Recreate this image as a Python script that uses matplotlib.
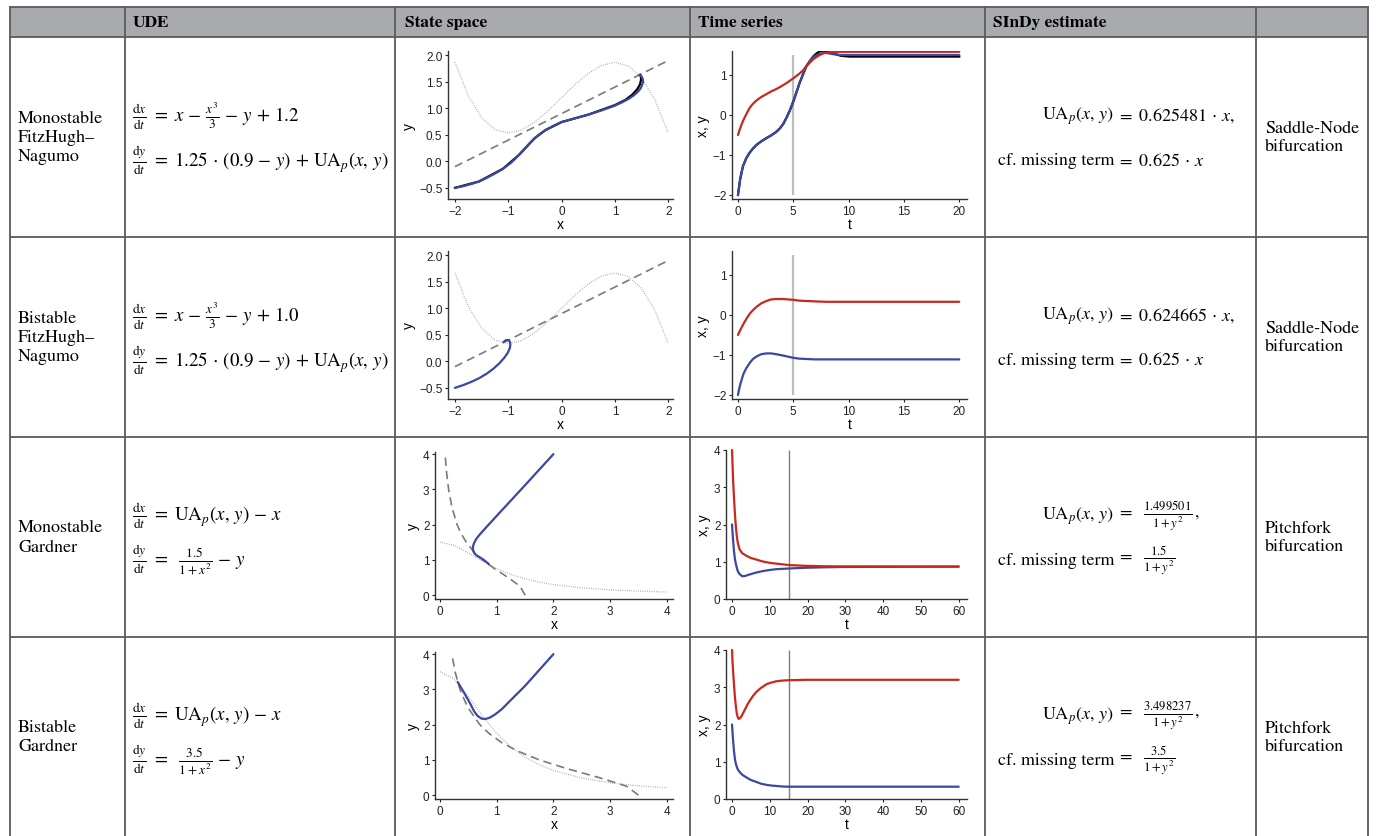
import matplotlib
matplotlib.use("Agg")
import matplotlib.pyplot as plt
from matplotlib.lines import Line2D
from matplotlib.patches import Rectangle

W, H = 1376, 837
plt.rcParams['mathtext.fontset'] = 'stix'
plt.rcParams['font.family'] = ['Liberation Sans', 'DejaVu Sans']
SERIF = ['STIXGeneral', 'Liberation Serif', 'DejaVu Serif']

# ---------------- data ----------------
headers = ["UDE", "State space", "Time series", "SInDy estimate"]
row_names = ["Monostable\nFitzHugh\u2013\nNagumo", "Bistable\nFitzHugh\u2013\nNagumo",
             "Monostable\nGardner", "Bistable\nGardner"]
bifurcations = ["Saddle-Node\nbifurcation", "Saddle-Node\nbifurcation",
                "Pitchfork\nbifurcation", "Pitchfork\nbifurcation"]
ude_dx = [r"$\frac{\mathrm{d}x}{\mathrm{d}t}\ =\ x\,-\,\frac{x^3}{3}\,-\,y\,+\,1.2$",
          r"$\frac{\mathrm{d}x}{\mathrm{d}t}\ =\ x\,-\,\frac{x^3}{3}\,-\,y\,+\,1.0$",
          r"$\frac{\mathrm{d}x}{\mathrm{d}t}\ =\ \mathrm{UA}_p(x,\, y)\,-\,x$",
          r"$\frac{\mathrm{d}x}{\mathrm{d}t}\ =\ \mathrm{UA}_p(x,\, y)\,-\,x$"]
ude_dy = [r"$\frac{\mathrm{d}y}{\mathrm{d}t}\ =\ 1.25\,\cdot\,(0.9\,-\,y)\,+\,\mathrm{UA}_p(x,\, y)$",
          r"$\frac{\mathrm{d}y}{\mathrm{d}t}\ =\ 1.25\,\cdot\,(0.9\,-\,y)\,+\,\mathrm{UA}_p(x,\, y)$",
          r"$\frac{\mathrm{d}y}{\mathrm{d}t}\ =\ \ \frac{1.5}{1+x^2}\,-\,y$",
          r"$\frac{\mathrm{d}y}{\mathrm{d}t}\ =\ \ \frac{3.5}{1+x^2}\,-\,y$"]
sindy_lhs = r"$\mathrm{UA}_p(x,\, y)$"
sindy_fit = [r"$=\ 0.625481\,\cdot\,x,$", r"$=\ 0.624665\,\cdot\,x,$",
             r"$=\ \ \frac{1.499501}{1+y^2}\,,$", r"$=\ \ \frac{3.498237}{1+y^2}\,,$"]
sindy_true = [r"$=\ 0.625\,\cdot\,x$", r"$=\ 0.625\,\cdot\,x$",
              r"$=\ \ \frac{1.5}{1+y^2}$", r"$=\ \ \frac{3.5}{1+y^2}$"]

# FitzHugh-Nagumo nullclines
fhn_null_x = [-2, -1.75, -1.5, -1.25, -1, -0.75, -0.5, -0.25, 0, 0.25, 0.5, 0.75, 1, 1.25, 1.5, 1.75, 2]
fhn1_null_y = [1.867, 1.236, 0.825, 0.601, 0.533, 0.591, 0.742, 0.955, 1.2, 1.445, 1.658, 1.809,
               1.867, 1.799, 1.575, 1.164, 0.533]
fhn2_null_y = [1.667, 1.036, 0.625, 0.401, 0.333, 0.391, 0.542, 0.755, 1.0, 1.245, 1.458, 1.609,
               1.667, 1.599, 1.375, 0.964, 0.333]
fhn_line_x = [-2, 2]
fhn_line_y = [-0.1, 1.9]

# FHN trajectories in state space (blue = UDE, black = true model)
fhn1_bx = [-2.0, -1.85, -1.7, -1.55, -1.4, -1.25, -1.1, -0.95, -0.8, -0.7, -0.6, -0.5, -0.4, -0.3,
           -0.15, 0.0, 0.25, 0.5, 0.75, 1.0, 1.15, 1.26, 1.35, 1.42, 1.48, 1.51, 1.53, 1.52, 1.5, 1.47]
fhn1_by = [-0.5, -0.47, -0.43, -0.38, -0.31, -0.23, -0.14, -0.03, 0.12, 0.23, 0.34, 0.44, 0.52, 0.59,
           0.67, 0.74, 0.81, 0.88, 0.96, 1.05, 1.12, 1.18, 1.24, 1.3, 1.37, 1.44, 1.5, 1.56, 1.6, 1.63]
fhn1_kx = [-2.0, -1.55, -1.1, -0.8, -0.5, -0.3, 0.0, 0.5, 1.0, 1.2, 1.33, 1.42, 1.47, 1.49, 1.49, 1.47]
fhn1_ky = [-0.5, -0.38, -0.14, 0.12, 0.44, 0.59, 0.74, 0.88, 1.06, 1.16, 1.26, 1.36, 1.45, 1.53, 1.59, 1.63]
fhn2_bx = [-2.0, -1.85, -1.7, -1.55, -1.4, -1.28, -1.17, -1.08, -1.01, -0.97, -0.96, -0.97, -1.0,
           -1.04, -1.07, -1.09]
fhn2_by = [-0.5, -0.45, -0.39, -0.32, -0.23, -0.14, -0.04, 0.06, 0.16, 0.25, 0.32, 0.37, 0.4, 0.4,
           0.38, 0.36]

# FHN time series
fhn1_t = [0, 0.2, 0.45, 0.75, 1.06, 1.35, 1.66, 2.1, 2.56, 3.0, 3.47, 3.8, 4.1, 4.4, 4.7, 5.07, 5.3,
          5.58, 5.9, 6.18, 6.5, 6.79, 7.1, 7.39, 7.7, 8.0, 8.6, 9.3, 10.1, 20]
fhn1_x = [-2, -1.6, -1.28, -1.08, -0.94, -0.84, -0.75, -0.66, -0.58, -0.51, -0.42, -0.33, -0.22, -0.06,
          0.12, 0.39, 0.58, 0.81, 1.03, 1.22, 1.35, 1.44, 1.5, 1.53, 1.55, 1.55, 1.52, 1.5, 1.5, 1.5]
fhn1_y = [-0.5, -0.33, -0.15, 0.02, 0.18, 0.28, 0.36, 0.45, 0.52, 0.59, 0.65, 0.7, 0.75, 0.8, 0.86,
          0.93, 0.98, 1.04, 1.12, 1.22, 1.31, 1.39, 1.45, 1.5, 1.54, 1.56, 1.58, 1.58, 1.58, 1.58]
fhn1_xtrue = [-2, -1.6, -1.28, -1.08, -0.94, -0.84, -0.75, -0.66, -0.58, -0.51, -0.42, -0.33, -0.22,
              -0.06, 0.12, 0.39, 0.58, 0.81, 1.03, 1.22, 1.35, 1.46, 1.54, 1.59, 1.61, 1.6, 1.54, 1.48,
              1.46, 1.46]
fhn2_t = [0, 0.1, 0.2, 0.35, 0.5, 0.75, 1.06, 1.35, 1.66, 2.1, 2.56, 3.0, 3.47, 4.0, 4.5, 5.0, 5.5,
          6.18, 7.0, 8.0, 20]
fhn2_x = [-2, -1.86, -1.74, -1.6, -1.47, -1.33, -1.2, -1.1, -1.04, -0.98, -0.96, -0.96, -0.98, -1.01,
          -1.04, -1.07, -1.09, -1.1, -1.11, -1.11, -1.11]
fhn2_y = [-0.5, -0.44, -0.38, -0.3, -0.22, -0.1, 0.03, 0.12, 0.2, 0.29, 0.35, 0.39, 0.4, 0.4, 0.39,
          0.38, 0.36, 0.35, 0.34, 0.33, 0.33]
fhn_cut_t = 5

# Gardner nullclines (same shape on both axes)
gard_s = [0, 0.25, 0.5, 0.75, 1, 1.25, 1.5, 1.75, 2, 2.5, 3, 3.5, 4]
gard1_null = [1.5, 1.412, 1.2, 0.96, 0.75, 0.585, 0.462, 0.369, 0.3, 0.207, 0.15, 0.113, 0.088]
gard2_null = [3.5, 3.294, 2.8, 2.24, 1.75, 1.366, 1.077, 0.862, 0.7, 0.483, 0.35, 0.264, 0.206]

# Gardner trajectories in state space
gard1_bx = [2.0, 1.5, 1.0, 0.8, 0.7, 0.64, 0.6, 0.58, 0.58, 0.6, 0.64, 0.7, 0.77, 0.86]
gard1_by = [4.0, 3.12, 2.25, 1.9, 1.72, 1.6, 1.48, 1.38, 1.28, 1.2, 1.13, 1.07, 1.0, 0.88]
gard2_bx = [2.0, 1.75, 1.5, 1.25, 1.09, 0.98, 0.88, 0.8, 0.73, 0.66, 0.6, 0.53, 0.45, 0.38, 0.31]
gard2_by = [4.0, 3.55, 3.1, 2.7, 2.44, 2.3, 2.2, 2.16, 2.17, 2.25, 2.38, 2.6, 2.83, 3.02, 3.21]

# Gardner time series
gard1_tx = [0, 0.15, 0.3, 0.5, 0.75, 1.0, 1.3, 1.6, 2.0, 2.7, 3.5, 4.7, 6.4, 8.2, 10, 11.7, 15.2, 20,
            24, 30, 60]
gard1_x = [2, 1.75, 1.55, 1.3, 1.08, 0.95, 0.82, 0.73, 0.67, 0.61, 0.62, 0.66, 0.71, 0.75, 0.78, 0.8,
           0.82, 0.84, 0.85, 0.86, 0.87]
gard1_ty = [0, 0.15, 0.3, 0.5, 0.75, 1.0, 1.25, 1.5, 2.0, 2.7, 3.8, 5, 6.4, 8, 10, 12.5, 15.2, 19.6,
            24, 30, 60]
gard1_y = [4, 3.55, 3.15, 2.75, 2.3, 1.95, 1.7, 1.52, 1.33, 1.23, 1.16, 1.1, 1.06, 1.01, 0.97, 0.94,
           0.91, 0.89, 0.88, 0.875, 0.87]
gard2_tx = [0, 0.15, 0.3, 0.5, 0.75, 1.0, 1.3, 1.6, 2.0, 2.7, 3.8, 5.0, 6.4, 7.7, 9.1, 10.5, 11.7,
            13.5, 15.2, 60]
gard2_x = [2, 1.75, 1.55, 1.3, 1.08, 0.95, 0.85, 0.78, 0.73, 0.65, 0.58, 0.51, 0.46, 0.41, 0.38,
           0.36, 0.35, 0.335, 0.33, 0.33]
gard2_ty = [0, 0.15, 0.3, 0.5, 0.75, 1.0, 1.25, 1.5, 1.76, 2.1, 2.5, 2.9, 3.5, 4.1, 4.7, 5.5, 6.4,
            7.5, 9.1, 10.5, 11.7, 13.5, 15.2, 20, 60]
gard2_y = [4, 3.65, 3.4, 3.1, 2.75, 2.5, 2.3, 2.2, 2.15, 2.17, 2.22, 2.3, 2.42, 2.54, 2.64, 2.76,
           2.87, 2.97, 3.08, 3.13, 3.16, 3.18, 3.19, 3.2, 3.2]
gard_cut_t = 15

# ---------------- drawing ----------------
BLUE = '#3b47a0'
RED = '#c8281e'
BORDER = '#5a5b5d'

fig = plt.figure(figsize=(W / 100, H / 100), dpi=100)
fig.patch.set_facecolor('white')


def fx(p):
    return p / W


def fy(p):
    return 1 - p / H


def hline(y, x0, x1):
    fig.add_artist(Line2D([fx(x0), fx(x1)], [fy(y), fy(y)], transform=fig.transFigure,
                          color=BORDER, lw=1.3))


def vline(x, y0, y1):
    fig.add_artist(Line2D([fx(x), fx(x)], [fy(y0), fy(y1)], transform=fig.transFigure,
                          color=BORDER, lw=1.3))


# header background
fig.add_artist(Rectangle((fx(10), fy(38)), fx(1368) - fx(10), fy(8) - fy(38),
                         transform=fig.transFigure, facecolor='#a9aaad', edgecolor='none'))
col_x = [10, 125, 395, 690, 985, 1256, 1368]
for y in [8, 38, 238, 438, 638]:
    hline(y, 10, 1368)
for x in col_x:
    vline(x, 8, 840)

for txt, x in zip(headers, [133, 405, 698, 993]):
    fig.text(fx(x), fy(23), txt, family=SERIF, fontweight='bold', fontsize=12.5, va='center', ha='left')

for i in range(4):
    off = 200 * i
    fig.text(fx(18), fy(138 + off), row_names[i], family=SERIF, fontsize=13, va='center', ha='left',
             linespacing=1.25)
    fig.text(fx(1265), fy(138 + off), bifurcations[i], family=SERIF, fontsize=13, va='center', ha='left',
             linespacing=1.15)
    fig.text(fx(132), fy(116 + off), ude_dx[i], fontsize=13.6, va='center', ha='left')
    fig.text(fx(132), fy(161 + off), ude_dy[i], fontsize=13.6, va='center', ha='left')
    fig.text(fx(1114), fy(116 + off), sindy_lhs, fontsize=13, va='center', ha='right')
    fig.text(fx(1117), fy(116 + off), sindy_fit[i], fontsize=13, va='center', ha='left')
    fig.text(fx(1114), fy(161 + off), "cf. missing term", family=SERIF, fontsize=13, va='center', ha='right')
    fig.text(fx(1117), fy(161 + off), sindy_true[i], fontsize=13, va='center', ha='left')


def add_ax(l, t, r, b):
    ax = fig.add_axes([l / W, 1 - b / H, (r - l) / W, (b - t) / H])
    for s in ['top', 'right']:
        ax.spines[s].set_visible(False)
    for s in ['left', 'bottom']:
        ax.spines[s].set_color('#333333')
        ax.spines[s].set_linewidth(1.0)
    ax.tick_params(direction='out', length=2.5, width=0.8, labelsize=8.5, pad=1.5, colors='#222222')
    ax.patch.set_alpha(0)
    return ax


state_boxes = [(448, 52, 673, 200), (448, 252, 673, 400), (435, 453, 673, 600), (435, 653, 673, 800)]
time_boxes = [(732, 52, 967, 200), (732, 252, 967, 400), (726, 451, 967, 600), (726, 651, 967, 800)]

dot_kw = dict(color='#9a9a9a', lw=0.9, ls=(0, (0.6, 1.2)), zorder=1)
dash_kw = dict(color='#7a7a7a', lw=1.2, ls=(0, (5, 3)), zorder=1)
traj_kw = dict(lw=1.6, zorder=3, solid_capstyle='round', solid_joinstyle='round')

# --- FHN state spaces ---
for i, (ny, bx, by) in enumerate([(fhn1_null_y, fhn1_bx, fhn1_by), (fhn2_null_y, fhn2_bx, fhn2_by)]):
    ax = add_ax(*state_boxes[i])
    ax.plot(fhn_null_x, ny, **dot_kw)
    ax.plot(fhn_line_x, fhn_line_y, **dash_kw)
    if i == 0:
        ax.plot(fhn1_kx, fhn1_ky, color='black', lw=1.6, zorder=2, solid_joinstyle='round')
    ax.plot(bx, by, color=BLUE, **traj_kw)
    ax.set_xlim(-2.13, 2.09)
    ax.set_ylim(-0.71, 2.08)
    ax.set_xticks([-2, -1, 0, 1, 2])
    ax.set_yticks([-0.5, 0.0, 0.5, 1.0, 1.5, 2.0])
    ax.set_xlabel('x', fontsize=10, labelpad=0)
    ax.set_ylabel('y', fontsize=10, labelpad=2)

# --- Gardner state spaces ---
for i, (nl, bx, by) in enumerate([(gard1_null, gard1_bx, gard1_by), (gard2_null, gard2_bx, gard2_by)]):
    ax = add_ax(*state_boxes[i + 2])
    ax.plot(gard_s, nl, **dot_kw)
    ax.plot(nl, gard_s, **dash_kw)
    ax.plot(bx, by, color=BLUE, **traj_kw)
    ax.set_xlim(-0.09, 4.11)
    ax.set_ylim(-0.11, 4.06)
    ax.set_xticks([0, 1, 2, 3, 4])
    ax.set_yticks([0, 1, 2, 3, 4])
    ax.set_xlabel('x', fontsize=10, labelpad=0)
    ax.set_ylabel('y', fontsize=10, labelpad=2)

# --- FHN time series ---
for i, (tt, xs, ys) in enumerate([(fhn1_t, fhn1_x, fhn1_y), (fhn2_t, fhn2_x, fhn2_y)]):
    ax = add_ax(*time_boxes[i])
    ax.vlines(fhn_cut_t, -2, 1.5, color='#bdbdbd', lw=1.6, zorder=1)
    if i == 0:
        ax.plot(tt, fhn1_xtrue, color='black', lw=1.6, zorder=2, solid_joinstyle='round')
    ax.plot(tt, xs, color=BLUE, **traj_kw)
    ax.plot(tt, ys, color=RED, **traj_kw)
    ax.set_xlim(-0.54, 20.7)
    ax.set_ylim(-2.1, 1.6)
    ax.set_xticks([0, 5, 10, 15, 20])
    ax.set_yticks([-2, -1, 0, 1])
    ax.set_xlabel('t', fontsize=10, labelpad=0)
    ax.set_ylabel('x, y', fontsize=10, labelpad=2)

# --- Gardner time series ---
for i, (tx, xs, ty, ys) in enumerate([(gard1_tx, gard1_x, gard1_ty, gard1_y),
                                      (gard2_tx, gard2_x, gard2_ty, gard2_y)]):
    ax = add_ax(*time_boxes[i + 2])
    ax.vlines(gard_cut_t, 0, 4, color='#7f7f7f', lw=1.0, zorder=1)
    ax.plot(tx, xs, color=BLUE, clip_on=False, **traj_kw)
    ax.plot(ty, ys, color=RED, clip_on=False, **traj_kw)
    ax.set_xlim(-1.6, 62.2)
    ax.set_ylim(0, 4)
    ax.set_xticks([0, 10, 20, 30, 40, 50, 60])
    ax.set_yticks([0, 1, 2, 3, 4])
    ax.set_xlabel('t', fontsize=10, labelpad=0)
    ax.set_ylabel('x, y', fontsize=10, labelpad=2)

fig.savefig('out.png', dpi=100)
